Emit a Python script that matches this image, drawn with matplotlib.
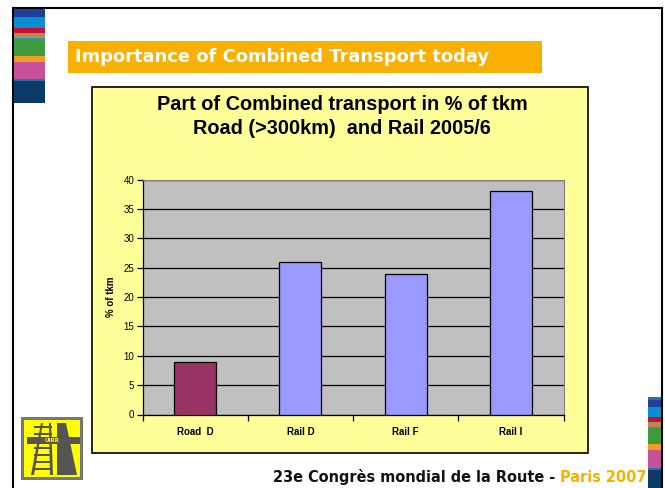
import matplotlib
matplotlib.use("Agg")
import matplotlib.pyplot as plt
from matplotlib.patches import Rectangle, Polygon

W, H = 665, 488
categories = ["Road  D", "Rail D", "Rail F", "Rail I"]
values = [9, 26, 24, 38]
bar_colors = ["#993366", "#9999ff", "#9999ff", "#9999ff"]
yticks = [0, 5, 10, 15, 20, 25, 30, 35, 40]

fig = plt.figure(figsize=(W / 100, H / 100), dpi=100)
fig.patch.set_facecolor("white")

def px(x, y, w, h):
    return (x / W, 1 - (y + h) / H, w / W, h / H)

def rect(x, y, w, h, **kw):
    l, b, ww, hh = px(x, y, w, h)
    fig.add_artist(Rectangle((l, b), ww, hh, transform=fig.transFigure, zorder=-5, **kw))

def ftext(x, y, s, **kw):
    return fig.text(x / W, 1 - y / H, s, **kw)

# slide border
rect(12.5, 7.5, 649, 490, facecolor="none", edgecolor="black", lw=1.5)

# left stripes
stripes = [(9, 17, "#1f3f99"), (17, 28, "#0a8ed3"), (28, 33, "#c8102e"), (33, 38, "#b8865b"),
           (38, 39.5, "#2e9cae"), (39.5, 56, "#3f9a3c"), (56, 62, "#f39c1f"), (62, 79, "#c9519b"),
           (79, 80.5, "#2a6fa8"), (80.5, 103, "#0b3a66")]
for y0, y1, c in stripes:
    rect(13.5, y0, 31.5, y1 - y0, facecolor=c, edgecolor="none")

# right stripes
rstripes = [(397, 400, "#2a6fa8"), (400, 407, "#1f3f99"), (407, 417, "#0a8ed3"), (417, 422, "#c8102e"),
            (422, 427, "#b8865b"), (427, 428, "#2e9cae"), (428, 444, "#3f9a3c"), (444, 450, "#f39c1f"),
            (450, 468, "#c9519b"), (468, 470, "#2a6fa8"), (470, 490, "#0b3a66")]
for y0, y1, c in rstripes:
    rect(648, y0, 13, y1 - y0, facecolor=c, edgecolor="none")

# orange banner
rect(68, 41, 474, 32, facecolor="#f9b000", edgecolor="none")
ftext(75, 57.5, "Importance of Combined Transport today", color="white", fontsize=12.9,
      fontweight="bold", family="DejaVu Sans", va="center", ha="left")

# chart area
rect(92, 87, 496, 366, facecolor="#ffff99", edgecolor="black", lw=1.2)
ftext(342, 105, "Part of Combined transport in % of tkm", fontsize=14.3, fontweight="bold",
      family="Liberation Sans", ha="center", va="center")
ftext(342, 129, "Road (>300km)  and Rail 2005/6", fontsize=14.3, fontweight="bold",
      family="Liberation Sans", ha="center", va="center")

ax = fig.add_axes(px(142.5, 179.5, 421, 235))
ax.set_zorder(5)
ax.set_facecolor("#c0c0c0")
x = range(len(categories))
ax.bar(x, values, width=0.4, color=bar_colors, edgecolor="black", linewidth=0.9, zorder=3)
ax.set_xlim(-0.5, 3.5)
ax.set_ylim(0, 40)
ax.set_yticks(yticks)
ax.set_yticklabels([str(t) for t in yticks], fontsize=7, family="Liberation Sans")
ax.yaxis.grid(True, color="black", lw=0.9, zorder=0)
ax.set_axisbelow(True)
ax.set_xticks(list(x))
ax.set_xticklabels(categories, fontsize=7, fontweight="bold", family="Liberation Sans")
ax.tick_params(axis="x", length=0, pad=9)
ax.set_xticks([-0.5, 0.5, 1.5, 2.5, 3.5], minor=True)
ax.tick_params(axis="x", which="minor", length=4, width=0.9, color="black")
ax.tick_params(axis="y", length=4, width=0.9, pad=2)
ax.set_ylabel("% of tkm", fontsize=7, fontweight="bold", family="Liberation Sans", labelpad=5)
for s in ["top", "right"]:
    ax.spines[s].set_color("#808080")
for s in ["left", "bottom"]:
    ax.spines[s].set_color("black")
    ax.spines[s].set_linewidth(0.9)

# logo (UIRR style)
rect(21, 417, 62, 63, facecolor="#777777", edgecolor="none")
rect(24, 420, 56, 57, facecolor="#ffff00", edgecolor="none")
def poly(pts, c):
    fig.add_artist(Polygon([(a / W, 1 - b / H) for a, b in pts], closed=True,
                           transform=fig.transFigure, facecolor=c, edgecolor="none", zorder=-4))
# rails
poly([(41, 423), (43, 423), (34, 475), (31, 475)], "#555555")
poly([(49, 423), (51, 423), (53, 475), (50, 475)], "#555555")
for yy in range(426, 475, 7):
    l, b, ww, hh = px(34, yy, 18, 2)
    fig.add_artist(Rectangle((l, b), ww, hh, transform=fig.transFigure, zorder=-4,
                             facecolor="#555555", edgecolor="none"))
# road
poly([(57, 423), (66, 423), (77, 475), (57, 475)], "#555555")
l, b, ww, hh = px(27, 437, 53, 7)
fig.add_artist(Rectangle((l, b), ww, hh, transform=fig.transFigure, zorder=-3,
                         facecolor="#555555", edgecolor="none"))
ftext(52, 440.5, "UIRR", fontsize=4, color="#ffff00", fontweight="bold", ha="center", va="center")

# footer
t1 = ftext(273, 482, "23e Congrès mondial de la Route - ", fontsize=10.45,
           fontweight="bold", family="DejaVu Sans", ha="left", va="baseline", color="#111111")
fig.canvas.draw()
bb = t1.get_window_extent()
fig.text(bb.x1 / W, 1 - 482 / H, "Paris 2007", fontsize=10.45, fontweight="bold",
         family="DejaVu Sans", ha="left", va="baseline", color="#f9b000")

fig.savefig("out.png", dpi=100, facecolor="white")
